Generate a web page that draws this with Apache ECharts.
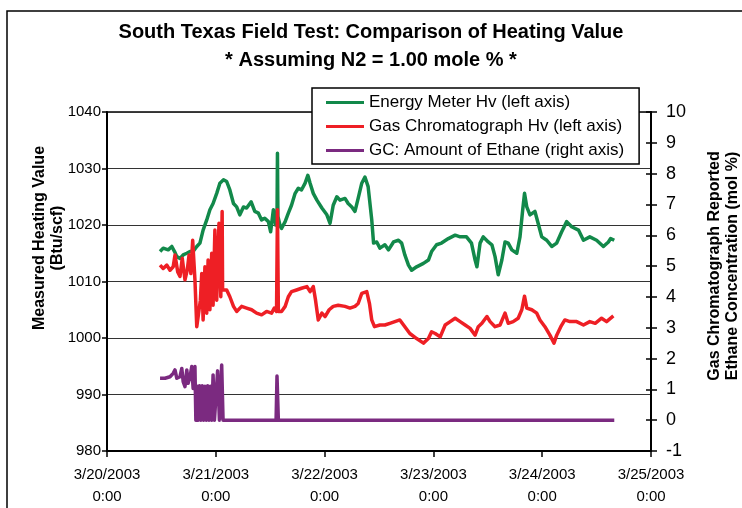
<!DOCTYPE html>
<html>
<head>
<meta charset="utf-8">
<script src="https://cdn.jsdelivr.net/npm/echarts@6/dist/echarts.min.js"></script>
<style>
  html, body { margin: 0; padding: 0; background: #fff; }
  #chart { width: 742px; height: 508px; }
</style>
</head>
<body>
<div id="chart"></div>
<script>
// hours since 3/20/2003 0:00
const xTickLabels = ['3/20/2003\n0:00', '3/21/2003\n0:00', '3/22/2003\n0:00', '3/23/2003\n0:00', '3/24/2003\n0:00', '3/25/2003\n0:00']

// Energy Meter Hv (left axis)
const meterHours = [11.7, 12.4, 13.5, 14.3, 14.9, 15.4, 16.1, 16.8, 17.6, 18.3, 19.0, 19.8, 20.5, 21.2, 22.0, 22.7, 23.4, 24.2, 24.9, 25.7, 26.4, 27.1, 27.9, 28.6, 29.3, 30.1, 30.8, 31.8, 32.6, 33.4, 34.1, 34.8, 35.6, 36.1, 36.7, 37.2, 37.5, 37.6, 37.7, 38.2, 38.5, 39.3, 40.0, 40.7, 41.5, 42.2, 42.9, 43.7, 44.3, 44.8, 45.5, 46.3, 47.4, 48.5, 49.2, 49.9, 50.7, 51.4, 52.5, 53.2, 54.0, 54.7, 55.4, 56.2, 56.9, 57.6, 58.4, 58.8, 59.5, 60.2, 61.3, 62.1, 63.2, 64.3, 65.0, 65.7, 66.5, 67.2, 68.3, 69.8, 70.9, 71.6, 72.7, 73.8, 75.3, 76.8, 77.9, 79.3, 80.4, 81.2, 81.6, 82.3, 83.0, 84.1, 84.9, 85.6, 86.3, 87.1, 87.8, 88.5, 89.3, 90.4, 91.1, 91.7, 92.1, 92.6, 93.3, 94.4, 95.1, 95.9, 97.0, 98.1, 99.2, 100.3, 101.4, 102.5, 104.0, 105.1, 106.5, 108.0, 109.5, 110.6, 111.1, 111.9]
const meterValues = [1015.3, 1015.9, 1015.6, 1016.2, 1015.3, 1014.4, 1014.1, 1014.7, 1015.0, 1015.3, 1015.3, 1016.2, 1016.8, 1019.1, 1020.9, 1022.7, 1023.8, 1025.6, 1027.4, 1028.0, 1027.7, 1026.2, 1023.8, 1023.2, 1021.8, 1023.2, 1023.0, 1024.1, 1022.4, 1022.1, 1020.9, 1021.2, 1020.6, 1018.8, 1022.7, 1020.0, 1021.0, 1032.7, 1021.5, 1019.8, 1019.4, 1020.6, 1022.1, 1023.5, 1025.6, 1026.5, 1026.2, 1027.4, 1028.8, 1027.4, 1025.6, 1024.4, 1023.0, 1021.8, 1020.3, 1023.5, 1025.0, 1024.4, 1024.7, 1023.8, 1023.2, 1022.4, 1024.7, 1027.4, 1028.5, 1026.8, 1020.9, 1016.8, 1017.0, 1015.9, 1016.5, 1015.6, 1017.0, 1017.3, 1016.8, 1014.7, 1012.9, 1012.0, 1012.6, 1013.2, 1013.8, 1015.3, 1016.5, 1016.8, 1017.6, 1018.2, 1017.9, 1017.9, 1016.8, 1013.8, 1012.6, 1016.8, 1017.9, 1017.0, 1016.5, 1014.4, 1011.2, 1013.8, 1017.0, 1016.8, 1015.6, 1015.0, 1017.9, 1022.7, 1025.6, 1023.2, 1021.8, 1022.4, 1020.3, 1017.9, 1017.3, 1016.2, 1016.8, 1018.8, 1020.6, 1019.7, 1019.1, 1017.3, 1017.9, 1017.3, 1016.2, 1017.0, 1017.6, 1017.3]

// Gas Chromatograph Hv (left axis)
const gcHours = [11.7, 12.4, 13.2, 13.9, 14.6, 15.0, 15.6, 16.1, 16.6, 17.2, 17.7, 18.1, 18.5, 18.9, 19.4, 19.8, 20.1, 20.6, 20.9, 21.2, 21.6, 22.0, 22.3, 22.7, 23.1, 23.4, 23.8, 24.2, 24.7, 25.1, 25.4, 25.5, 26.4, 27.1, 27.9, 28.6, 29.7, 30.8, 31.9, 33.0, 34.1, 35.2, 36.3, 36.9, 37.4, 37.6, 37.8, 38.5, 39.3, 40.0, 40.7, 41.8, 42.9, 44.1, 44.8, 45.5, 46.0, 46.6, 47.4, 48.1, 49.0, 49.9, 51.0, 52.5, 53.6, 54.7, 55.4, 56.2, 57.3, 57.9, 58.4, 59.0, 60.2, 61.3, 62.4, 63.5, 64.6, 65.7, 66.8, 68.3, 69.8, 70.9, 71.6, 72.4, 73.5, 74.6, 75.7, 76.8, 77.9, 79.0, 80.1, 81.2, 81.9, 82.7, 83.8, 84.5, 85.6, 86.7, 87.8, 88.5, 89.6, 90.7, 91.5, 92.1, 92.6, 93.7, 94.8, 95.5, 96.6, 97.7, 98.6, 99.2, 100.1, 101.0, 102.1, 103.6, 105.1, 106.5, 107.7, 109.1, 110.2, 111.7]
const gcValues = [1012.9, 1012.3, 1012.9, 1012.0, 1012.6, 1014.7, 1011.7, 1010.9, 1014.1, 1010.3, 1012.0, 1014.7, 1011.4, 1017.3, 1010.3, 1002.0, 1001.7, 1006.7, 1011.4, 1003.2, 1012.6, 1004.4, 1013.8, 1005.0, 1015.0, 1005.8, 1019.1, 1006.7, 1020.3, 1007.3, 1022.4, 1008.5, 1008.5, 1007.3, 1005.6, 1004.7, 1005.6, 1005.3, 1005.0, 1004.4, 1004.1, 1004.7, 1004.4, 1005.3, 1004.7, 1022.7, 1004.7, 1004.7, 1005.6, 1007.3, 1008.2, 1008.5, 1008.8, 1009.1, 1008.2, 1009.1, 1006.7, 1003.2, 1004.4, 1003.8, 1005.0, 1005.6, 1005.8, 1005.6, 1005.3, 1005.6, 1006.1, 1007.9, 1008.2, 1006.1, 1003.2, 1002.0, 1002.3, 1002.3, 1002.6, 1002.9, 1003.2, 1002.0, 1000.8, 999.9, 999.1, 999.9, 1001.1, 1000.8, 1000.2, 1002.3, 1002.9, 1003.5, 1002.9, 1002.3, 1001.7, 1000.5, 1002.0, 1002.6, 1003.8, 1002.9, 1002.0, 1002.3, 1004.4, 1002.6, 1002.9, 1003.5, 1005.0, 1007.4, 1005.3, 1005.0, 1004.4, 1003.2, 1002.0, 1000.5, 999.1, 1000.5, 1002.0, 1003.2, 1002.9, 1002.9, 1002.3, 1002.9, 1002.6, 1003.5, 1002.9, 1003.9]

// GC: Amount of Ethane (right axis, mol %)
const ethaneHours = [11.7, 12.8, 13.9, 14.6, 15.0, 15.4, 16.1, 16.5, 16.8, 17.2, 17.6, 17.9, 18.3, 18.7, 19.0, 19.4, 19.6, 19.9, 20.1, 20.4, 20.7, 21.0, 21.3, 21.6, 21.9, 22.2, 22.5, 22.8, 23.1, 23.4, 23.7, 24.0, 24.4, 24.8, 25.3, 25.6, 37.3, 37.5, 37.8, 111.9]
const ethaneValues = [1.36, 1.36, 1.41, 1.52, 1.63, 1.36, 1.41, 1.68, 1.25, 1.09, 1.63, 1.2, 1.41, 1.74, 1.03, 1.74, 0, 1.1, 0, 1.12, 0, 1.12, 0, 1.1, 0, 1.12, 0, 1.1, 0, 1.47, 0, 0, 1.6, 0, 1.79, 0, 0, 1.43, 0, 0]

const font = "'Liberation Sans', Arial, sans-serif"
const pair = (hs, vs) => hs.map((h, i) => [h, vs[i]])

const chart = echarts.init(document.getElementById('chart'))

chart.setOption({
  animation: false,
  textStyle: { fontFamily: font, color: '#000' },
  title: {
    text: 'South Texas Field Test: Comparison of Heating Value\n* Assuming N2 = 1.00 mole % *',
    left: 'center',
    top: 13,
    textStyle: { fontFamily: font, fontSize: 20, fontWeight: 'bold', lineHeight: 28, color: '#000' }
  },
  legend: {
    orient: 'vertical',
    left: 312,
    top: 88,
    padding: [6, 15, 5, 14],
    itemGap: 7,
    itemWidth: 38,
    itemHeight: 3,
    icon: 'rect',
    backgroundColor: '#fff',
    borderColor: '#000',
    borderWidth: 1.5,
    borderRadius: 0,
    textStyle: { fontFamily: font, fontSize: 17, lineHeight: 17, color: '#000' },
    data: ['Energy Meter Hv (left axis)', 'Gas Chromatograph Hv (left axis)', 'GC: Amount of Ethane (right axis)']
  },
  graphic: [
    { type: 'rect', silent: true, shape: { x: 7, y: 11, width: 745, height: 510 }, style: { fill: 'none', stroke: '#000', lineWidth: 1.5 } },
    { type: 'text', x: 40, y: 238, rotation: Math.PI / 2, style: { text: 'Measured Heating Value', font: 'bold 16px ' + font, fill: '#000', align: 'center', verticalAlign: 'middle' } },
    { type: 'text', x: 58, y: 238, rotation: Math.PI / 2, style: { text: '(Btu/scf)', font: 'bold 16px ' + font, fill: '#000', align: 'center', verticalAlign: 'middle' } },
    { type: 'text', x: 715, y: 266, rotation: Math.PI / 2, style: { text: 'Gas Chromatograph Reported', font: 'bold 16px ' + font, fill: '#000', align: 'center', verticalAlign: 'middle' } },
    { type: 'text', x: 733, y: 266, rotation: Math.PI / 2, style: { text: 'Ethane Concentration (mol %)', font: 'bold 16px ' + font, fill: '#000', align: 'center', verticalAlign: 'middle' } }
  ],
  grid: {
    left: 107, right: 91, top: 112, bottom: 57,
    show: true, borderColor: '#000', borderWidth: 1.5, backgroundColor: 'transparent'
  },
  xAxis: {
    type: 'value',
    min: 0, max: 120, interval: 24,
    axisLine: { onZero: false, lineStyle: { color: '#000', width: 2 } },
    axisTick: { length: 6, lineStyle: { color: '#000', width: 1.5 } },
    splitLine: { show: false },
    axisLabel: {
      margin: 13, fontSize: 15, lineHeight: 22, color: '#000', fontFamily: font,
      formatter: v => xTickLabels[Math.round(v / 24)]
    }
  },
  yAxis: [{
    type: 'value',
    min: 980, max: 1040, interval: 10,
    axisLine: { show: true, lineStyle: { color: '#000', width: 2 } },
    axisTick: { show: true, length: 5, lineStyle: { color: '#000', width: 1.5 } },
    splitLine: { show: true, lineStyle: { color: '#333', width: 1.2 } },
    axisLabel: { margin: 6, fontSize: 15, color: '#000', fontFamily: font, formatter: v => String(v) }
  }, {
    type: 'value',
    position: 'right',
    min: -1, max: 10, interval: 1,
    alignTicks: false,
    axisLine: { show: true, onZero: false, lineStyle: { color: '#000', width: 2 } },
    axisTick: { show: true, length: 6, lineStyle: { color: '#000', width: 1.5 } },
    splitLine: { show: false },
    axisLabel: { margin: 15, fontSize: 18, color: '#000', fontFamily: font }
  }, {
    type: 'value',
    position: 'right',
    min: -1, max: 10, interval: 1,
    alignTicks: false,
    axisLine: { show: false },
    axisTick: { show: true, inside: true, length: 5, lineStyle: { color: '#000', width: 1.5 } },
    splitLine: { show: false },
    axisLabel: { show: false }
  }],
  series: [{
    name: 'Energy Meter Hv (left axis)',
    type: 'line',
    yAxisIndex: 0,
    showSymbol: false,
    color: '#12894a',
    lineStyle: { width: 3.5, join: 'round' },
    data: pair(meterHours, meterValues)
  }, {
    name: 'Gas Chromatograph Hv (left axis)',
    type: 'line',
    yAxisIndex: 0,
    showSymbol: false,
    color: '#ee1f25',
    lineStyle: { width: 3.5, join: 'round' },
    data: pair(gcHours, gcValues)
  }, {
    name: 'GC: Amount of Ethane (right axis)',
    type: 'line',
    yAxisIndex: 1,
    showSymbol: false,
    color: '#7b2a80',
    lineStyle: { width: 3.5, join: 'round' },
    data: pair(ethaneHours, ethaneValues)
  }]
})
</script>
</body>
</html>
